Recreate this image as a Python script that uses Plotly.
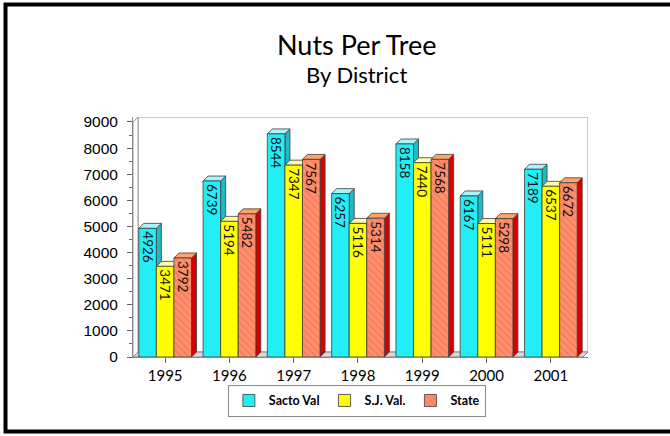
import plotly.graph_objects as go

years = ["1995", "1996", "1997", "1998", "1999", "2000", "2001"]
series_names = ["Sacto Val", "S.J. Val.", "State"]
sacto = [4926, 6739, 8544, 6257, 8158, 6167, 7189]
sj = [3471, 5194, 7347, 5116, 7440, 5111, 6537]
state = [3792, 5482, 7567, 5314, 7568, 5298, 6672]
y_ticks = [0, 1000, 2000, 3000, 4000, 5000, 6000, 7000, 8000, 9000]

series = [sacto, sj, state]
front = ["#22EEF8", "#FFFF00", "#FF8F6E"]
top_c = ["#A8F4F8", "#FFFFA8", "#FFA466"]
side_c = ["#22B8C6", "#C8C800", "#D80000"]

GROUP = 0.82
W = GROUP / 3
DX = 0.078   # depth offset in category units
DY = 190     # depth offset in value units
YMAX = 9000
xs = list(range(len(years)))

fig = go.Figure()
shapes = []

# outer frame (decoration)
shapes.append(dict(type="rect", xref="paper", yref="paper",
                   x0=-0.2802, x1=1.19, y0=-0.3104, y1=1.469,
                   line=dict(color="black", width=4), fillcolor="rgba(0,0,0,0)",
                   layer="below"))
# back wall
shapes.append(dict(type="rect", xref="x", yref="y",
                   x0=-0.5 + DX, x1=len(years) - 0.5 + DX, y0=DY, y1=YMAX + DY,
                   line=dict(color="#999999", width=1), fillcolor="white", layer="below"))
# left wall
shapes.append(dict(type="path", xref="x", yref="y",
                   path=f"M -0.5,0 L {-0.5+DX},{DY} L {-0.5+DX},{YMAX+DY} L -0.5,{YMAX} Z",
                   line=dict(color="#999999", width=1), fillcolor="white", layer="below"))
# floor
x_end = len(years) - 0.5
shapes.append(dict(type="path", xref="x", yref="y",
                   path=f"M -0.5,0 L {x_end},0 L {x_end+DX},{DY} L {-0.5+DX},{DY} Z",
                   line=dict(color="#888888", width=1), fillcolor="#D8D8D8", layer="below"))

for i, (name, vals) in enumerate(zip(series_names, series)):
    off = -GROUP / 2 + i * W
    marker = dict(color=front[i], line=dict(color="#3C3C3C", width=0.8))
    if i == 2:
        marker["pattern"] = dict(shape="\\", fillmode="overlay", fgcolor="#E56A48",
                                 size=5, solidity=0.3)
    fig.add_trace(go.Bar(
        x=xs, y=vals, name=name, width=W, offset=off,
        marker=marker,
        text=[str(v) for v in vals], textposition="inside", insidetextanchor="end",
        textangle=90, constraintext="none",
        textfont=dict(family="Lato", size=13.5, color="#111111"),
        hoverinfo="y",
    ))
    for c, v in zip(xs, vals):
        xl = c + off
        xr = xl + W
        shapes.append(dict(type="path", xref="x", yref="y",
                           path=f"M {xr},0 L {xr+DX},{DY} L {xr+DX},{v+DY} L {xr},{v} Z",
                           fillcolor=side_c[i], line=dict(color="#3C3C3C", width=0.8),
                           layer="below"))
        shapes.append(dict(type="path", xref="x", yref="y",
                           path=f"M {xl},{v} L {xl+DX},{v+DY} L {xr+DX},{v+DY} L {xr},{v} Z",
                           fillcolor=top_c[i], line=dict(color="#3C3C3C", width=0.8),
                           layer="below"))

fig.update_layout(
    width=670, height=436,
    margin=dict(l=133, r=82, t=117, b=79),
    paper_bgcolor="white", plot_bgcolor="white",
    barmode="overlay",
    showlegend=True,
    legend=dict(orientation="h", x=0.492, xanchor="center", y=-0.116, yanchor="top",
                bordercolor="#888888", borderwidth=1, bgcolor="white",
                font=dict(family="Lato", size=12.5, color="black", weight="bold"),
                itemwidth=30),
    shapes=shapes,
    annotations=[
        dict(text="Nuts Per Tree", xref="paper", yref="paper", x=0.492, y=(357 - 45) / 240,
             showarrow=False, font=dict(family="Lato", size=27, color="black"),
             xanchor="center", yanchor="middle"),
        dict(text="By District", xref="paper", yref="paper", x=0.492, y=(357 - 74) / 240,
             showarrow=False, font=dict(family="Lato", size=22, color="black"),
             xanchor="center", yanchor="middle"),
    ],
)
fig.update_xaxes(range=[-0.5, x_end + DX], tickvals=xs, ticktext=years,
                 showline=True, linecolor="#888888", linewidth=1,
                 ticks="outside", ticklen=5, tickcolor="#666666",
                 showgrid=False, zeroline=False, ticklabelstandoff=0,
                 tickfont=dict(family="Lato", size=15, color="black"))
fig.update_yaxes(range=[0, YMAX + DY], tickvals=y_ticks,
                 showline=True, linecolor="#888888", linewidth=1,
                 ticks="outside", ticklen=5, tickcolor="#666666",
                 minor=dict(dtick=500, ticks="outside", ticklen=3, tickcolor="#666666"),
                 showgrid=False, zeroline=False, ticklabelstandoff=6,
                 tickfont=dict(family="Liberation Sans", size=15.5, color="black"))

fig.write_html("out.html", post_script="document.body.style.margin='0';",
               config={"displayModeBar": False})
